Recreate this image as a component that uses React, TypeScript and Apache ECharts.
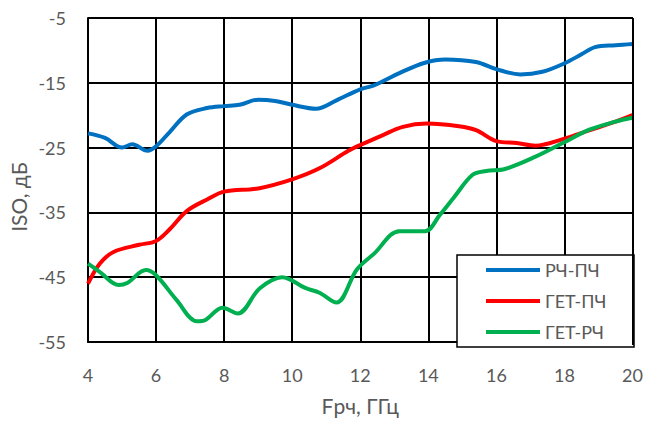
import React, { useEffect, useRef } from "react";
import * as echarts from "echarts";

const seriesNames = ["РЧ-ПЧ", "ГЕТ-ПЧ", "ГЕТ-РЧ"];
const seriesColors = ["#0070C0", "#FF0000", "#00B050"];

const rfIfFreq = [4.0, 4.5, 5.0, 5.3, 5.75, 6.0, 6.4, 6.9, 7.5, 8.0, 8.45, 9.0, 9.5, 10.0, 10.7, 11.3, 12.0, 12.4, 13.15, 13.9, 14.5, 15.4, 16.0, 16.7, 17.35, 18.0, 18.5, 18.9, 19.5, 20.0];
const rfIfIso = [-22.8, -23.5, -25.0, -24.5, -25.5, -24.8, -22.6, -19.9, -18.9, -18.6, -18.4, -17.6, -17.8, -18.4, -19.0, -17.7, -16.0, -15.4, -13.5, -11.9, -11.4, -11.8, -12.9, -13.7, -13.3, -12.0, -10.6, -9.5, -9.2, -9.0];

const loIfFreq = [4.0, 4.35, 4.75, 5.5, 6.0, 6.4, 6.9, 7.5, 8.0, 9.0, 10.0, 10.8, 11.65, 12.0, 12.65, 13.25, 13.95, 14.9, 15.4, 16.0, 16.6, 17.15, 17.95, 18.75, 19.5, 20.0];
const loIfIso = [-46.0, -42.9, -41.1, -40.0, -39.4, -37.6, -34.8, -33.0, -31.8, -31.3, -29.9, -28.2, -25.5, -24.6, -23.1, -21.8, -21.3, -21.7, -22.3, -24.0, -24.3, -24.7, -23.7, -22.3, -21.0, -20.0];

const loRfFreq = [4.0, 4.35, 4.9, 5.15, 5.7, 6.0, 6.6, 7.2, 7.45, 7.95, 8.4, 9.05, 9.7, 10.4, 10.8, 11.3, 11.9, 12.4, 13.15, 13.9, 14.35, 14.75, 15.3, 15.7, 16.25, 17.15, 17.95, 18.75, 19.5, 20.0];
const loRfIso = [-42.9, -44.2, -46.2, -45.9, -43.9, -44.7, -48.5, -51.8, -51.6, -49.7, -50.6, -46.7, -45.0, -46.7, -47.4, -48.9, -43.8, -41.4, -37.9, -37.9, -35.3, -32.7, -29.2, -28.6, -28.3, -26.4, -24.3, -22.2, -21.0, -20.4];

const xMin = 4;
const xMax = 20;
const xStep = 2;
const yMin = -55;
const yMax = -5;
const yStep = 10;
const xAxisTitle = "Fрч, ГГц";
const yAxisTitle = "ISO, дБ";

const zip = (xs: number[], ys: number[]) => xs.map((x, i) => [x, ys[i]]);

export default function App() {
  const ref = useRef<HTMLDivElement>(null);
  useEffect(() => {
    if (!ref.current) return;
    const chart = echarts.init(ref.current, undefined, { renderer: "svg" });
    const font = "Lato, 'Open Sans', sans-serif";
    const seriesData = [zip(rfIfFreq, rfIfIso), zip(loIfFreq, loIfIso), zip(loRfFreq, loRfIso)];
    chart.setOption({
      animation: false,
      backgroundColor: "#ffffff",
      textStyle: { fontFamily: font },
      grid: { left: 88, right: 13, top: 18, bottom: 76, containLabel: false },
      xAxis: {
        type: "value",
        min: xMin,
        max: xMax,
        interval: xStep,
        name: xAxisTitle,
        nameLocation: "middle",
        nameGap: 53,
        nameTextStyle: { fontSize: 21, color: "#595959", fontFamily: font },
        axisLine: { show: true, lineStyle: { color: "#000000", width: 2 } },
        axisTick: { show: false },
        axisLabel: { fontSize: 18, color: "#595959", margin: 24, fontFamily: font },
        splitLine: { show: true, lineStyle: { color: "#000000", width: 2 } },
      },
      yAxis: {
        type: "value",
        min: yMin,
        max: yMax,
        interval: yStep,
        axisLine: { show: true, lineStyle: { color: "#000000", width: 2 } },
        axisTick: { show: false },
        axisLabel: { fontSize: 18, color: "#595959", margin: 22, fontFamily: font },
        splitLine: { show: true, lineStyle: { color: "#000000", width: 2 } },
      },
      graphic: [
        {
          type: "text",
          x: 18,
          y: 197,
          rotation: Math.PI / 2,
          style: {
            text: yAxisTitle,
            fontSize: 21,
            fontFamily: font,
            fill: "#595959",
            align: "center",
            verticalAlign: "middle",
          },
        },
        {
          type: "rect",
          z: 50,
          shape: { x: 457, y: 255, width: 177, height: 92 },
          style: { fill: "#ffffff", stroke: "#000000", lineWidth: 1.5 },
        },
        {
          type: "line",
          z: 50,
          shape: { x1: 633, y1: 18, x2: 633, y2: 345 },
          style: { stroke: "#000000", lineWidth: 2 },
        },
        {
          type: "line",
          z: 50,
          shape: { x1: 88, y1: 18, x2: 633, y2: 18 },
          style: { stroke: "#000000", lineWidth: 2 },
        },
      ],
      legend: {
        z: 60,
        orient: "vertical",
        left: 486,
        top: 260,
        padding: [0, 0, 0, 0],
        itemWidth: 54,
        itemHeight: 4,
        itemGap: 11,
        icon: "rect",
        data: seriesNames,
        textStyle: { fontSize: 18, color: "#595959", fontFamily: font, lineHeight: 20, padding: [0, 0, 0, 0] },
      },
      series: seriesNames.map((name, i) => ({
        name,
        type: "line",
        data: seriesData[i],
        smooth: 0.35,
        showSymbol: false,
        symbol: "none",
        lineStyle: { color: seriesColors[i], width: 4 },
        itemStyle: { color: seriesColors[i] },
        z: 10,
      })),
    });
    return () => chart.dispose();
  }, []);
  return <div ref={ref} style={{ width: 646, height: 421, position: "fixed", left: 0, top: 0 }} />;
}
